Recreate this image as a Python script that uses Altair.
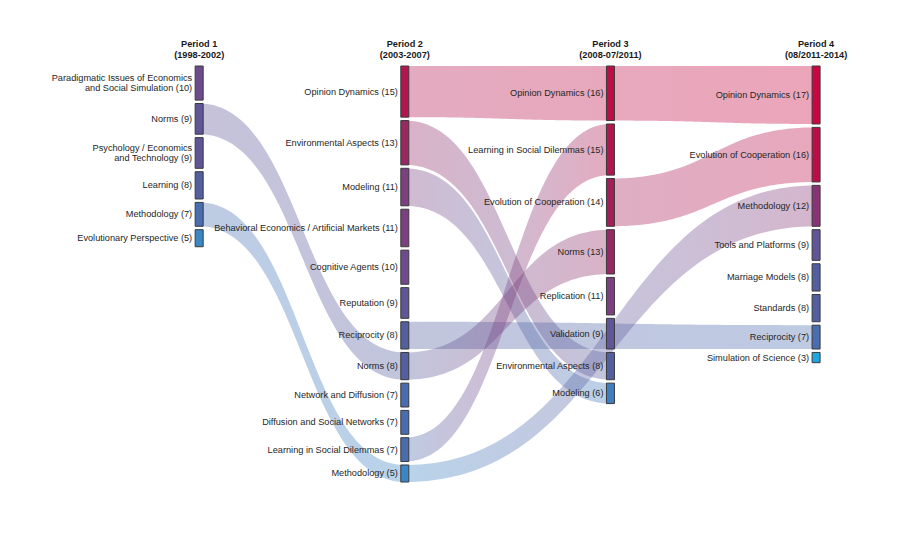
import altair as alt
import pandas as pd
import numpy as np

# ---------------- data ----------------
period_titles = ["Period 1\n(1998-2002)", "Period 2\n(2003-2007)",
                 "Period 3\n(2008-07/2011)", "Period 4\n(08/2011-2014)"]

p1_names = ["Paradigmatic Issues of Economics\nand Social Simulation", "Norms",
            "Psychology / Economics\nand Technology", "Learning", "Methodology",
            "Evolutionary Perspective"]
p1_values = [10, 9, 9, 8, 7, 5]

p2_names = ["Opinion Dynamics", "Environmental Aspects", "Modeling",
            "Behavioral Economics / Artificial Markets", "Cognitive Agents",
            "Reputation", "Reciprocity", "Norms", "Network and Diffusion",
            "Diffusion and Social Networks", "Learning in Social Dilemmas",
            "Methodology"]
p2_values = [15, 13, 11, 11, 10, 9, 8, 8, 7, 7, 7, 5]

p3_names = ["Opinion Dynamics", "Learning in Social Dilemmas",
            "Evolution of Cooperation", "Norms", "Replication", "Validation",
            "Environmental Aspects", "Modeling"]
p3_values = [16, 15, 14, 13, 11, 9, 8, 6]

p4_names = ["Opinion Dynamics", "Evolution of Cooperation", "Methodology",
            "Tools and Platforms", "Marriage Models", "Standards", "Reciprocity",
            "Simulation of Science"]
p4_values = [17, 16, 12, 9, 8, 8, 7, 3]

link_src_period = [0, 0, 1, 1, 1, 1, 1, 1, 1, 2, 2]
link_src_name = ["Norms", "Methodology", "Opinion Dynamics", "Environmental Aspects",
                 "Modeling", "Reciprocity", "Norms", "Learning in Social Dilemmas",
                 "Methodology", "Opinion Dynamics", "Evolution of Cooperation"]
link_tgt_period = [1, 1, 2, 2, 2, 3, 2, 2, 3, 3, 3]
link_tgt_name = ["Norms", "Methodology", "Opinion Dynamics", "Environmental Aspects",
                 "Modeling", "Reciprocity", "Norms", "Learning in Social Dilemmas",
                 "Methodology", "Opinion Dynamics", "Evolution of Cooperation"]

# colour by topic size
color_values = [3, 5, 6, 7, 8, 9, 10, 11, 12, 13, 14, 15, 16, 17]
color_hex = ["#20a6df", "#3b87c6", "#3f7fbf", "#4a6db0", "#535f9f", "#5f5597",
             "#6f4a8c", "#7c3f7f", "#883474", "#972863", "#a41f58", "#b2164f",
             "#bd0d47", "#c8063f"]
cmap = dict(zip(color_values, color_hex))

# ---------------- scales ----------------
W, H = 882, 522
PX_X = 208.0    # pixels per period
X0 = 188.3      # plot x of period 1
PX_Y = 3.41     # pixels per unit
Y0 = 58.0       # plot y of top of nodes
LH = 10.8       # text line height (px)
xscale = alt.Scale(domain=[-X0 / PX_X, (W - X0) / PX_X], nice=False, zero=False)
yscale = alt.Scale(domain=[-Y0 / PX_Y, (H - Y0) / PX_Y], nice=False, zero=False, reverse=True)

# ---------------- layout (units: 1 unit = one paper, gap = 1) ----------------
GAP = 1
rows = []
for p, (names, vals) in enumerate([(p1_names, p1_values), (p2_names, p2_values),
                                   (p3_names, p3_values), (p4_names, p4_values)]):
    y = 0
    for n, v in zip(names, vals):
        nlines = n.count("\n") + 1
        rows.append({"period": p, "name": n, "value": v, "y0": y, "y1": y + v,
                     "ytext": y + v / 2 - (nlines - 1) * (LH / PX_Y) / 2,
                     "label": f"{n} ({v})"})
        y += v + GAP
nodes = pd.DataFrame(rows)


def node(p, n):
    return nodes[(nodes.period == p) & (nodes.name == n)].iloc[0]


def bez(a, b, c, d, t):
    return (1 - t) ** 3 * a + 3 * (1 - t) ** 2 * t * b + 3 * (1 - t) * t ** 2 * c + t ** 3 * d


t = np.linspace(0, 1, 80)
link_layers = []
for i in range(len(link_src_name)):
    s = node(link_src_period[i], link_src_name[i])
    g = node(link_tgt_period[i], link_tgt_name[i])
    xs, xt = float(s.period), float(g.period)
    xm = (xs + xt) / 2
    df = pd.DataFrame({
        "x": bez(xs, xm, xm, xt, t),
        "top": bez(s.y0, s.y0, g.y0, g.y0, t),
        "bot": bez(s.y1, s.y1, g.y1, g.y1, t),
    })
    grad = alt.Gradient(
        gradient="linear",
        stops=[alt.GradientStop(color=cmap[int(s.value)], offset=0),
               alt.GradientStop(color=cmap[int(g.value)], offset=1)],
        x1=0, x2=1, y1=0, y2=0)
    layer = alt.Chart(df).mark_area(fill=grad, opacity=0.36, interpolate="linear").encode(
        x=alt.X("x:Q", scale=xscale, axis=None),
        y=alt.Y("top:Q", scale=yscale, axis=None),
        y2="bot:Q")
    link_layers.append(layer)

FONT = "Liberation Sans"

bars = alt.Chart(nodes).mark_bar(width=8, stroke="#3a3a3a", strokeWidth=1).encode(
    x=alt.X("period:Q", scale=xscale, axis=None),
    y=alt.Y("y0:Q", scale=yscale, axis=None),
    y2="y1:Q",
    fill=alt.Fill("value:Q", scale=alt.Scale(domain=color_values, range=color_hex),
                  legend=None),
)

labels = alt.Chart(nodes).mark_text(
    align="right", baseline="middle", dx=-7, fontSize=9.2, font=FONT,
    color="#262626", lineBreak="\n", lineHeight=LH
).encode(
    x=alt.X("period:Q", scale=xscale, axis=None),
    y=alt.Y("ytext:Q", scale=yscale, axis=None),
    text="label:N",
)

hdr = pd.DataFrame({"period": [0, 1, 2, 3], "title": period_titles})
headers = alt.Chart(hdr).mark_text(
    align="center", baseline="middle", fontSize=9.2, fontWeight="bold", font=FONT,
    color="#1a1a1a", lineBreak="\n", lineHeight=LH
).encode(
    x=alt.X("period:Q", scale=xscale, axis=None),
    y=alt.value(36.3),
    text="title:N",
)

chart = alt.layer(*link_layers, bars, labels, headers).properties(
    width=W, height=H, autosize=alt.AutoSizeParams(type="none"), padding=0,
    background="white"
).configure_view(stroke=None)

chart.save("out.html", embed_options={"renderer": "svg", "actions": False})
